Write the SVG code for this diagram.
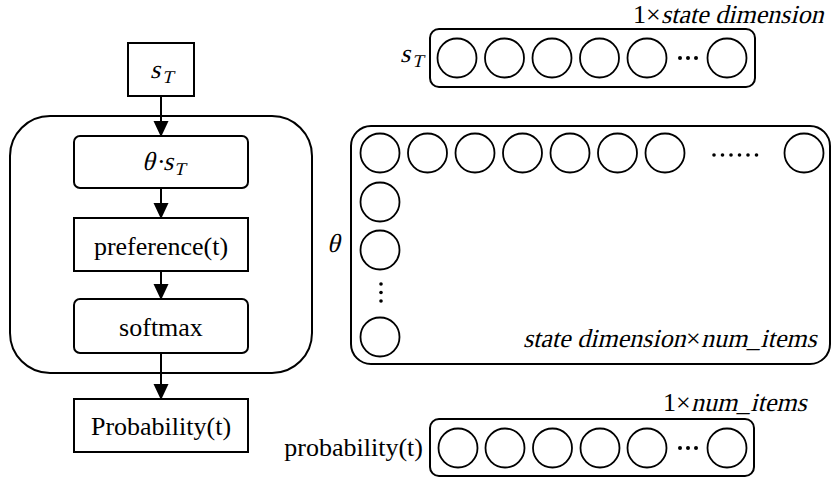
<svg xmlns="http://www.w3.org/2000/svg" width="832" height="477" viewBox="0 0 832 477">
<style>
.box{fill:#fff;stroke:#000;stroke-width:2}
.frame{fill:none;stroke:#000;stroke-width:2}
.c{fill:#fff;stroke:#000;stroke-width:1.8}
.t{font-family:"Liberation Serif","Times New Roman",serif;font-size:26px;fill:#000}
.sub{font-size:18px}
.line{stroke:#000;stroke-width:2;fill:none}
.dot{fill:#000}
</style>
<defs>
<marker id="ah" markerUnits="userSpaceOnUse" markerWidth="16" markerHeight="18" refX="14" refY="7.5" orient="auto">
<path d="M0,0 L16,7.5 L0,15 Z" fill="#000"/>
</marker>
</defs>

<g id="policy-frame">
<rect class="frame" x="10" y="116" width="302" height="257" rx="40" ry="40"/>
</g>

<g id="node-sT">
<rect class="box" x="128" y="43" width="66" height="53"/>
<g transform="translate(150,78) skewX(-14)"><text class="t" x="0" y="0">s</text></g>
<g transform="translate(162,83) skewX(-14)"><text class="t sub" x="0" y="0">T</text></g>
</g>

<g id="node-theta-sT">
<rect class="box" x="74" y="136" width="174" height="52" rx="6" ry="6"/>
<g transform="translate(142,170) skewX(-14)"><text class="t" x="0" y="0">θ</text></g>
<text class="t" x="157" y="170">·</text>
<g transform="translate(163,170) skewX(-14)"><text class="t" x="0" y="0">s</text></g>
<g transform="translate(174,175) skewX(-14)"><text class="t sub" x="0" y="0">T</text></g>
</g>

<g id="node-preference">
<rect class="box" x="74" y="218" width="174" height="53"/>
<text class="t" x="161" y="255" text-anchor="middle">preference(t)</text>
</g>

<g id="node-softmax">
<rect class="box" x="74" y="299" width="174" height="54" rx="6" ry="6"/>
<text class="t" x="161" y="336" text-anchor="middle">softmax</text>
</g>

<g id="node-probability">
<rect class="box" x="74" y="399" width="174" height="53"/>
<text class="t" x="161" y="435" text-anchor="middle">Probability(t)</text>
</g>

<g id="connectors">
<line class="line" x1="161" y1="96" x2="161" y2="135" marker-end="url(#ah)"/>
<line class="line" x1="161" y1="188" x2="161" y2="217" marker-end="url(#ah)"/>
<line class="line" x1="161" y1="271" x2="161" y2="298" marker-end="url(#ah)"/>
<line class="line" x1="161" y1="353" x2="161" y2="398" marker-end="url(#ah)"/>
</g>

<g id="vector-sT">
<text class="t" x="633" y="23">1×</text>
<g transform="translate(661,23) skewX(-14)"><text class="t" x="0" y="0">state dimension</text></g>
<g transform="translate(400,62) skewX(-14)"><text class="t" x="0" y="0">s</text></g>
<g transform="translate(412,67) skewX(-14)"><text class="t sub" x="0" y="0">T</text></g>
<rect class="box" x="430" y="29" width="325" height="58" rx="9" ry="9"/>
<circle class="c" cx="457" cy="58" r="19.5"/>
<circle class="c" cx="504.5" cy="58" r="19.5"/>
<circle class="c" cx="552" cy="58" r="19.5"/>
<circle class="c" cx="599.5" cy="58" r="19.5"/>
<circle class="c" cx="647" cy="58" r="19.5"/>
<circle class="dot" cx="680" cy="58" r="2"/>
<circle class="dot" cx="688" cy="58" r="2"/>
<circle class="dot" cx="696" cy="58" r="2"/>
<circle class="c" cx="727" cy="58" r="19.5"/>
</g>

<g id="matrix-theta">
<g transform="translate(327,252) skewX(-14)"><text class="t" x="0" y="0">θ</text></g>
<rect class="box" x="351" y="126" width="479" height="238" rx="20" ry="20"/>
<circle class="c" cx="380" cy="153" r="19.5"/>
<circle class="c" cx="427.5" cy="153" r="19.5"/>
<circle class="c" cx="475" cy="153" r="19.5"/>
<circle class="c" cx="522.5" cy="153" r="19.5"/>
<circle class="c" cx="570" cy="153" r="19.5"/>
<circle class="c" cx="617.5" cy="153" r="19.5"/>
<circle class="c" cx="665" cy="153" r="19.5"/>
<circle class="dot" cx="714" cy="155" r="1.8"/>
<circle class="dot" cx="722.5" cy="155" r="1.8"/>
<circle class="dot" cx="731" cy="155" r="1.8"/>
<circle class="dot" cx="739.5" cy="155" r="1.8"/>
<circle class="dot" cx="748" cy="155" r="1.8"/>
<circle class="dot" cx="756.5" cy="155" r="1.8"/>
<circle class="c" cx="804" cy="153" r="19.5"/>
<circle class="c" cx="380" cy="202" r="19.5"/>
<circle class="c" cx="380" cy="250" r="19.5"/>
<circle class="dot" cx="381" cy="284" r="1.8"/>
<circle class="dot" cx="381" cy="292.5" r="1.8"/>
<circle class="dot" cx="381" cy="301" r="1.8"/>
<circle class="c" cx="380" cy="337" r="19.5"/>
<g transform="translate(523,347) skewX(-14)"><text class="t" x="0" y="0">state dimension</text></g>
<text class="t" x="686" y="347">×</text>
<g transform="translate(701,347) skewX(-14)"><text class="t" x="0" y="0">num_items</text></g>
</g>

<g id="vector-probability">
<text class="t" x="663" y="411">1×</text>
<g transform="translate(691,411) skewX(-14)"><text class="t" x="0" y="0">num_items</text></g>
<text class="t" x="423" y="456" text-anchor="end">probability(t)</text>
<rect class="box" x="430" y="419" width="324" height="57" rx="9" ry="9"/>
<circle class="c" cx="458" cy="448" r="19.5"/>
<circle class="c" cx="505" cy="448" r="19.5"/>
<circle class="c" cx="552.5" cy="448" r="19.5"/>
<circle class="c" cx="600" cy="448" r="19.5"/>
<circle class="c" cx="647" cy="448" r="19.5"/>
<circle class="dot" cx="680" cy="448" r="2"/>
<circle class="dot" cx="688" cy="448" r="2"/>
<circle class="dot" cx="696" cy="448" r="2"/>
<circle class="c" cx="727" cy="448" r="19.5"/>
</g>
</svg>
